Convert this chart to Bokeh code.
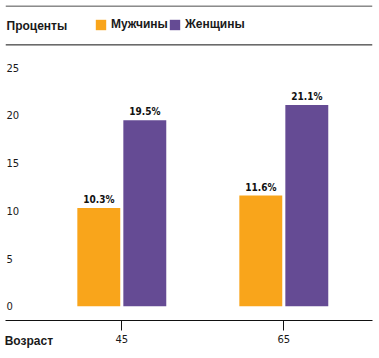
from bokeh.plotting import figure
from bokeh.models import (Range1d, FixedTicker, Label, Span, Legend, LegendItem,
                          ColumnDataSource)
from bokeh.transform import dodge
from bokeh.core.properties import value
from bokeh.embed import file_html
from bokeh.resources import INLINE

# ---- data ----
ages = [45, 65]
men = [10.3, 11.6]
women = [19.5, 21.1]
y_ticks = [0, 5, 10, 15, 20, 25]
series_names = ["Мужчины", "Женщины"]
header_text = "Проценты"
x_title = "Возраст"

ORANGE = "#F9A51B"
PURPLE = "#654B94"

W, H = 375, 350
LEFT, RIGHT, TOP, BOTTOM = 5, 3, 5, 29
FH = H - TOP - BOTTOM          # frame height
PPU = 9.57                     # px per percent
PPX = 8.1                      # px per year
y1 = (306.7 - TOP) / PPU
y0 = y1 - FH / PPU
x0 = 45 - (121.3 - LEFT) / PPX
x1 = x0 + (W - LEFT - RIGHT) / PPX


def y_at(py):
    return y1 - (py - TOP) / PPU


def x_at(px):
    return x0 + (px - LEFT) / PPX


p = figure(width=W, height=H, output_backend="svg", toolbar_location=None,
           x_range=Range1d(x0, x1), y_range=Range1d(y0, y1),
           min_border_left=LEFT, min_border_right=RIGHT, min_border_top=TOP,
           min_border_bottom=BOTTOM, y_axis_location=None)
p.outline_line_color = None
p.grid.visible = False
p.background_fill_color = "white"
p.border_fill_color = "white"

src = ColumnDataSource(dict(
    age=ages, men=men, women=women,
    men_lbl=[f"{v}%" for v in men],
    women_lbl=[f"{v}%" for v in women],
))

off, bw = 2.84, 5.3
r_men = p.vbar(x=dodge("age", -off), top="men", bottom=0, width=bw, source=src,
               fill_color=ORANGE, line_color=None)
r_women = p.vbar(x=dodge("age", off), top="women", bottom=0, width=bw, source=src,
                 fill_color=PURPLE, line_color=None)

lbl_font = value("DejaVu Sans Condensed")
for col, o in (("men", -off), ("women", off)):
    p.text(x=dodge("age", o), y=col, text=col + "_lbl", source=src,
           text_align="center", text_baseline="bottom", y_offset=-3,
           text_font=lbl_font, text_font_style="bold", text_font_size="10px",
           text_color="#111111")

# x axis
ax = p.xaxis[0]
ax.ticker = FixedTicker(ticks=ages)
ax.axis_line_color = "#111111"
ax.axis_line_width = 1
ax.major_tick_line_color = "#111111"
ax.major_tick_out = 10
ax.major_tick_in = 0
ax.minor_tick_line_color = None
ax.major_label_standoff = 4
ax.major_label_text_font = "DejaVu Sans"
ax.major_label_text_font_size = "10px"
ax.major_label_text_color = "#1a1a1a"
# the axis title is centred on the frame start; pad it so it reads left-aligned
ax.axis_label = "\u00a0" * 14 + x_title
ax.axis_label_align = "start"
ax.axis_label_standoff = -12
ax.axis_label_text_font = "Liberation Sans"
ax.axis_label_text_font_style = "bold"
ax.axis_label_text_font_size = "12px"
ax.axis_label_text_color = "#1a1a1a"

# y tick labels (left aligned)
for t in y_ticks:
    p.add_layout(Label(x=x_at(6), y=t, text=str(t),
                       text_align="left", text_baseline="middle",
                       text_font="DejaVu Sans", text_font_size="10px",
                       text_color="#1a1a1a"))

# header lines
p.add_layout(Span(location=y_at(5.5), dimension="width", line_color="#111111",
                  line_width=1))
p.add_layout(Span(location=y_at(44.5), dimension="width", line_color="#111111",
                  line_width=1))

p.add_layout(Label(x=x_at(6), y=y_at(26), text=header_text,
                   text_align="left", text_baseline="middle",
                   text_font="Liberation Sans", text_font_style="bold",
                   text_font_size="12px", text_color="#1a1a1a"))

legend = Legend(items=[LegendItem(label=series_names[0], renderers=[r_men]),
                       LegendItem(label=series_names[1], renderers=[r_women])],
                orientation="horizontal", location=(94 - LEFT, (H - BOTTOM) - 32),
                glyph_width=13, glyph_height=13, label_height=13,
                label_standoff=4, spacing=0, padding=0, margin=0,
                border_line_color=None, background_fill_alpha=0,
                label_text_font="Liberation Sans", label_text_font_style="bold",
                label_text_font_size="12px", label_text_color="#1a1a1a")
p.add_layout(legend)

open("out.html", "w").write(file_html(p, INLINE))
